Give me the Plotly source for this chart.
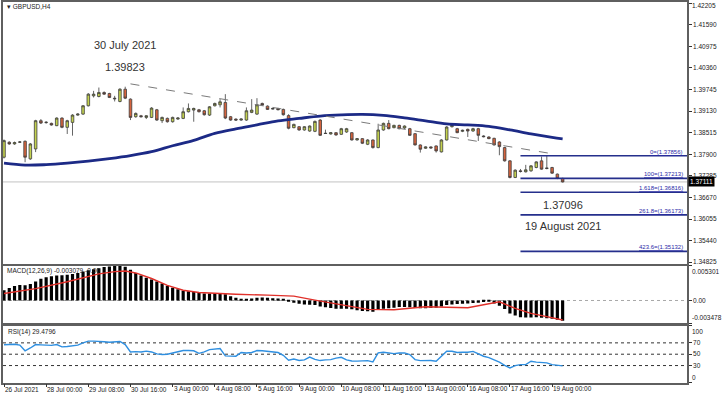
import pandas as pd
import plotly.graph_objects as go
from plotly.subplots import make_subplots

# ---------------- data ----------------
times = [t for t in pd.date_range("2021-07-26 16:00", "2021-08-19 08:00", freq="4h") if t.weekday() < 5]
bar_idx = list(range(len(times)))

opens = [1.37815, 1.38241, 1.38193, 1.38241, 1.38269, 1.37768, 1.38051, 1.38855, 1.38800, 1.38779,
         1.38713, 1.38930, 1.38666, 1.38807, 1.39015, 1.39043, 1.39280, 1.39563, 1.39544, 1.39658,
         1.39629, 1.39497, 1.39403, 1.39752, 1.39469, 1.38968, 1.38996, 1.38949, 1.38949, 1.39166,
         1.38855, 1.38921, 1.38826, 1.38902, 1.38921, 1.39110, 1.39157, 1.39166, 1.39138, 1.39015,
         1.39280, 1.39308, 1.39374, 1.38968, 1.38902, 1.38873, 1.38873, 1.39091, 1.39043, 1.39346,
         1.39270, 1.39185, 1.39204, 1.39176, 1.39000, 1.38656, 1.38684, 1.38590, 1.38561, 1.38552,
         1.38873, 1.38500, 1.38476, 1.38514, 1.38467, 1.38533, 1.38514, 1.38306, 1.38344, 1.38183,
         1.38306, 1.38089, 1.38590, 1.38779, 1.38656, 1.38722, 1.38646, 1.38627, 1.38486, 1.38164,
         1.38070, 1.38108, 1.38136, 1.37966, 1.38306, 1.38684, 1.38627, 1.38552, 1.38609, 1.38561,
         1.38627, 1.38420, 1.38391, 1.38353, 1.38249, 1.38089, 1.37711, 1.37238, 1.37427, 1.37399,
         1.37427, 1.37522, 1.37711, 1.37510, 1.37522, 1.37333, 1.37210]
highs = [1.38320, 1.38270, 1.38260, 1.38275, 1.38290, 1.38220, 1.38880, 1.38902, 1.38840, 1.38800,
         1.38950, 1.38950, 1.38880, 1.39040, 1.39065, 1.39300, 1.39640, 1.39705, 1.39800, 1.39690,
         1.39650, 1.39563, 1.39780, 1.39823, 1.39490, 1.39090, 1.39020, 1.39010, 1.39240, 1.39190,
         1.38970, 1.38945, 1.38970, 1.38955, 1.39233, 1.39346, 1.39225, 1.39190, 1.39160, 1.39270,
         1.39370, 1.39469, 1.39611, 1.38990, 1.38920, 1.38920, 1.39233, 1.39469, 1.39497, 1.39370,
         1.39290, 1.39220, 1.39220, 1.39200, 1.39040, 1.38770, 1.38700, 1.38700, 1.38720, 1.38860,
         1.38900, 1.38600, 1.38530, 1.38530, 1.38650, 1.38650, 1.38530, 1.38360, 1.38360, 1.38330,
         1.38320, 1.38769, 1.38800, 1.38873, 1.38740, 1.38740, 1.38720, 1.38650, 1.38500, 1.38180,
         1.38125, 1.38125, 1.38150, 1.38330, 1.38700, 1.38750, 1.38650, 1.38600, 1.38630, 1.38650,
         1.38650, 1.38440, 1.38410, 1.38370, 1.38270, 1.38110, 1.37730, 1.37470, 1.37480, 1.37597,
         1.37590, 1.37700, 1.37834, 1.37856, 1.37540, 1.37350, 1.37230]
lows = [1.37780, 1.38170, 1.38170, 1.38220, 1.37673, 1.37740, 1.37960, 1.38760, 1.38770, 1.38715,
        1.38700, 1.38640, 1.38477, 1.38429, 1.38995, 1.39020, 1.39260, 1.39516, 1.39520, 1.39590,
        1.39500, 1.39403, 1.39380, 1.39470, 1.38873, 1.38940, 1.38950, 1.38902, 1.38930, 1.38850,
        1.38788, 1.38800, 1.38800, 1.38880, 1.38900, 1.39090, 1.38826, 1.39090, 1.39000, 1.38990,
        1.39260, 1.39233, 1.38900, 1.38850, 1.38850, 1.38850, 1.38850, 1.39070, 1.39020, 1.39280,
        1.39160, 1.39170, 1.39150, 1.39000, 1.38610, 1.38640, 1.38570, 1.38570, 1.38540, 1.38530,
        1.38420, 1.38480, 1.38460, 1.38430, 1.38450, 1.38510, 1.38290, 1.38290, 1.38190, 1.38160,
        1.38061, 1.38070, 1.38570, 1.38610, 1.38640, 1.38610, 1.38620, 1.38420, 1.38150, 1.37947,
        1.38050, 1.38060, 1.37947, 1.37950, 1.38290, 1.38660, 1.38500, 1.38530, 1.38391, 1.38540,
        1.38278, 1.38380, 1.38330, 1.38150, 1.37871, 1.37690, 1.37213, 1.37220, 1.37380, 1.37380,
        1.37400, 1.37500, 1.37460, 1.37470, 1.37340, 1.37190, 1.37096]
closes = [1.38288, 1.38193, 1.38231, 1.38250, 1.37815, 1.38193, 1.38855, 1.38788, 1.38810, 1.38732,
          1.38930, 1.38666, 1.38855, 1.39015, 1.39043, 1.39280, 1.39611, 1.39611, 1.39658, 1.39611,
          1.39516, 1.39480, 1.39752, 1.39497, 1.38949, 1.39062, 1.38968, 1.38996, 1.39214, 1.38873,
          1.38949, 1.38826, 1.38949, 1.38930, 1.39110, 1.39204, 1.39204, 1.39110, 1.39025, 1.39251,
          1.39346, 1.39393, 1.38930, 1.38873, 1.38873, 1.38902, 1.39138, 1.39157, 1.39308, 1.39299,
          1.39176, 1.39204, 1.39166, 1.39025, 1.38640, 1.38750, 1.38590, 1.38684, 1.38703, 1.38835,
          1.38438, 1.38490, 1.38514, 1.38448, 1.38627, 1.38627, 1.38306, 1.38344, 1.38212, 1.38306,
          1.38089, 1.38590, 1.38779, 1.38627, 1.38722, 1.38627, 1.38703, 1.38438, 1.38164, 1.38042,
          1.38108, 1.38080, 1.37994, 1.38306, 1.38675, 1.38722, 1.38514, 1.38580, 1.38561, 1.38627,
          1.38438, 1.38400, 1.38344, 1.38164, 1.38117, 1.37711, 1.37238, 1.37446, 1.37410, 1.37456,
          1.37569, 1.37682, 1.37475, 1.37495, 1.37361, 1.37213, 1.37111]

ma_idx = [0, 4, 8, 12, 16, 20, 24, 28, 32, 36, 40, 44, 48, 52, 56, 60, 64, 68, 72, 76,
          80, 84, 88, 92, 96, 100, 104, 106]
ma_val = [1.37645, 1.37589, 1.37603, 1.37645, 1.37702, 1.37773, 1.37858, 1.37971, 1.38141, 1.38297,
          1.38495, 1.38623, 1.38736, 1.38850, 1.38921, 1.38986, 1.39020, 1.39034, 1.39006, 1.38935,
          1.38850, 1.38765, 1.38736, 1.38694, 1.38595, 1.38481, 1.38382, 1.38340]

trend_idx = [24, 104]
trend_val = [1.39904, 1.37915]

fib_start = 98
fib_levels = [1.37856, 1.37213, 1.36816, 1.36173, 1.35132]
fib_names = ["0", "100", "1.618", "261.8", "423.6"]

last_price = 1.37111

macd_hist = [0.00157, 0.00192, 0.00220, 0.00235, 0.00232, 0.00250, 0.00290, 0.00330, 0.00355, 0.00370,
             0.00380, 0.00384, 0.00392, 0.00405, 0.00420, 0.00440, 0.00460, 0.00475, 0.00490, 0.00510,
             0.00520, 0.00530, 0.00525, 0.00515, 0.00470, 0.00420, 0.00380, 0.00345, 0.00320, 0.00290,
             0.00260, 0.00225, 0.00195, 0.00170, 0.00150, 0.00140, 0.00130, 0.00115, 0.00105, 0.00105,
             0.00110, 0.00110, 0.00095, 0.00065, 0.00040, 0.00025, 0.00020, 0.00030, 0.00040, 0.00045,
             0.00040, 0.00035, 0.00030, 0.00015, -0.00020, -0.00035, -0.00050, -0.00060, -0.00065, -0.00070,
             -0.00090, -0.00105, -0.00115, -0.00125, -0.00125, -0.00125, -0.00135, -0.00150, -0.00160, -0.00165,
             -0.00170, -0.00140, -0.00125, -0.00120, -0.00110, -0.00100, -0.00100, -0.00105, -0.00115, -0.00120,
             -0.00120, -0.00115, -0.00110, -0.00090, -0.00070, -0.00060, -0.00055, -0.00050, -0.00045, -0.00040,
             -0.00035, -0.00025, -0.00020, -0.00045, -0.00080, -0.00130, -0.00200, -0.00230, -0.00255, -0.00260,
             -0.00260, -0.00255, -0.00265, -0.00270, -0.00280, -0.00295, -0.00308]

sig_idx = [0, 6, 12, 18, 21, 23, 25, 28, 31, 34, 37, 40, 44, 50, 55, 59, 63, 66, 69, 74,
           80, 88, 92, 94, 97, 100, 103, 106]
sig_val = [0.00106, 0.00180, 0.00285, 0.00405, 0.00440, 0.00449, 0.00420, 0.00335, 0.00230, 0.00157,
           0.00121, 0.00106, 0.00095, 0.00081, 0.00066, 0.00005, -0.00050, -0.00096, -0.00136, -0.00141,
           -0.00096, -0.00111, -0.00045, -0.00020, -0.00121, -0.00197, -0.00247, -0.00298]

rsi = [66.8, 67.0, 67.5, 66.0, 56.0, 61.0, 67.0, 66.5, 66.0, 65.5,
       67.0, 63.0, 63.5, 65.0, 66.0, 70.0, 73.0, 73.0, 73.0, 72.0,
       71.0, 71.5, 72.5, 67.0, 54.0, 54.5, 54.0, 55.5, 54.0, 50.5,
       49.5, 50.0, 52.0, 55.0, 56.5, 56.5, 56.0, 51.5, 54.0, 58.0,
       58.5, 60.0, 47.0, 46.5, 46.5, 53.0, 52.0, 53.0, 56.5, 56.0,
       55.0, 55.0, 53.0, 48.0, 39.5, 41.5, 39.0, 40.0, 45.0, 41.0,
       38.8, 40.0, 40.5, 43.0, 44.6, 40.0, 38.0, 37.8, 38.5, 38.7,
       36.4, 52.3, 53.5, 52.0, 51.0, 52.0, 52.3, 49.4, 40.5, 38.7,
       39.0, 39.0, 37.6, 47.0, 55.3, 55.3, 53.0, 53.5, 53.5, 55.0,
       51.0, 46.4, 44.0, 40.5, 36.0, 30.5, 25.9, 30.0, 31.7, 31.7,
       37.6, 36.0, 34.7, 34.7, 31.7, 30.0, 29.48]
rsi_levels = [70, 50, 30]

price_ticks = [1.42205, 1.41590, 1.40975, 1.40360, 1.39745, 1.39130, 1.38515,
               1.37900, 1.37285, 1.36670, 1.36055, 1.35440, 1.34825]
macd_max, macd_min = 0.005301, -0.003478

time_tick_idx = [0, 8, 16, 24, 32, 40, 48, 56, 64, 72, 80, 88, 96, 104]
time_tick_text = ["26 Jul 2021", "28 Jul 00:00", "29 Jul 08:00", "30 Jul 16:00", "3 Aug 00:00",
                  "4 Aug 08:00", "5 Aug 16:00", "9 Aug 00:00", "10 Aug 08:00", "11 Aug 16:00",
                  "13 Aug 00:00", "16 Aug 08:00", "17 Aug 16:00", "19 Aug 00:00"]

# ---------------- figure ----------------
W, H = 723, 397
FONT = "Liberation Sans"
x_range = [-0.19, 129.6]
BORDER = "#5f5f5f"

fig = make_subplots(rows=3, cols=1, shared_xaxes=True, vertical_spacing=0.01)

fig.add_trace(go.Candlestick(
    x=bar_idx, open=opens, high=highs, low=lows, close=closes,
    increasing=dict(fillcolor="#c4d24e", line=dict(color="#3d3d3d", width=0.8)),
    decreasing=dict(fillcolor="#d5633d", line=dict(color="#3d3d3d", width=0.8)),
    whiskerwidth=0, showlegend=False, hoverinfo="skip"), row=1, col=1)

fig.add_trace(go.Scatter(x=ma_idx, y=ma_val, mode="lines",
                         line=dict(color="#1c2a86", width=2.8, shape="spline"),
                         showlegend=False, hoverinfo="skip"), row=1, col=1)

fig.add_trace(go.Scatter(x=trend_idx, y=trend_val, mode="lines",
                         line=dict(color="#7a7a7a", width=1, dash="dash"),
                         showlegend=False, hoverinfo="skip"), row=1, col=1)

for lv in fib_levels:
    fig.add_trace(go.Scatter(x=[fib_start, x_range[1]], y=[lv, lv], mode="lines",
                             line=dict(color="#252f8c", width=1.6),
                             showlegend=False, hoverinfo="skip", cliponaxis=True), row=1, col=1)

fig.add_trace(go.Bar(x=bar_idx, y=macd_hist, marker=dict(color="black", line=dict(width=0)),
                     width=0.6, showlegend=False, hoverinfo="skip"), row=2, col=1)
fig.add_trace(go.Scatter(x=sig_idx, y=sig_val, mode="lines",
                         line=dict(color="#e0302a", width=1.4),
                         showlegend=False, hoverinfo="skip"), row=2, col=1)

fig.add_trace(go.Scatter(x=bar_idx, y=rsi, mode="lines",
                         line=dict(color="#2f8fe0", width=1.4),
                         showlegend=False, hoverinfo="skip"), row=3, col=1)

# reference lines
fig.add_shape(type="line", xref="x domain", yref="y", x0=0, x1=1, y0=last_price, y1=last_price,
              line=dict(color="#c2c2c2", width=1), layer="below")
fig.add_shape(type="line", xref="x2 domain", yref="y2", x0=0, x1=1, y0=0, y1=0,
              line=dict(color="#a8a8a8", width=1, dash="dot"), layer="below")
for lv in rsi_levels:
    fig.add_shape(type="line", xref="x3 domain", yref="y3", x0=0, x1=1, y0=lv, y1=lv,
                  line=dict(color="#333333", width=1, dash="dot"), layer="below")

# domains / axes
xdom = [3 / W, 687 / W]
ydoms = [[1 - 265 / H, 1 - 2 / H], [1 - 325 / H, 1 - 267 / H], [1 - 384.5 / H, 1 - 327.5 / H]]
for r in range(3):
    fig.update_xaxes(row=r + 1, col=1, domain=xdom, range=x_range, showgrid=False, zeroline=False,
                     showline=True, mirror=True, linecolor=BORDER, linewidth=1.5,
                     showticklabels=False, ticks="", rangeslider=dict(visible=False))
    fig.update_yaxes(row=r + 1, col=1, domain=ydoms[r], side="right", showgrid=False, zeroline=False,
                     showline=True, mirror=True, linecolor=BORDER, linewidth=1.5,
                     ticks="outside", ticklen=3, tickcolor="#333",
                     tickfont=dict(family=FONT, size=6.5, color="#222"))

fig.update_xaxes(row=3, col=1, ticks="outside", ticklen=3, tickcolor="#333", tickvals=time_tick_idx)
fig.update_yaxes(row=1, col=1, range=[1.34783, 1.42236], tickvals=price_ticks,
                 ticktext=[""] + [f"{v:.5f}" for v in price_ticks[1:]])
fig.update_yaxes(row=2, col=1, range=[macd_min - 0.00001, macd_max + 0.00001],
                 tickvals=[macd_max, 0, macd_min], ticktext=["", "0.00", ""])
fig.update_yaxes(row=3, col=1, range=[0, 100], tickvals=[100, 70, 50, 30, 0],
                 ticktext=["", "70", "50", "30", ""])

ann = []
axis_x = 690 / W
small = dict(family=FONT, size=6.5, color="#222")
ann.append(dict(x=axis_x, xref="paper", y=1.0, yref="paper", text=f"{price_ticks[0]:.5f}",
                xanchor="left", yanchor="top", showarrow=False, font=small))
ann.append(dict(x=axis_x, xref="paper", y=macd_max, yref="y2", text=f"{macd_max:.6f}",
                xanchor="left", yanchor="top", showarrow=False, font=small))
ann.append(dict(x=axis_x, xref="paper", y=macd_min, yref="y2", text=f"{macd_min:.6f}",
                xanchor="left", yanchor="bottom", showarrow=False, font=small))
ann.append(dict(x=axis_x, xref="paper", y=100, yref="y3", text="100",
                xanchor="left", yanchor="top", showarrow=False, font=small))
ann.append(dict(x=axis_x, xref="paper", y=0, yref="y3", text="0",
                xanchor="left", yanchor="bottom", showarrow=False, font=small))
ann.append(dict(x=688 / W, xref="paper", y=last_price, yref="y", text=f"{last_price:.5f}",
                xanchor="left", yanchor="middle", showarrow=False, bgcolor="black", borderpad=1,
                font=dict(family=FONT, size=6.5, color="white")))

for name, lv in zip(fib_names, fib_levels):
    ann.append(dict(x=685 / W, xref="paper", y=lv, yref="y", text=f"<u>{name}=({lv:.5f})</u>",
                    xanchor="right", yanchor="bottom", yshift=-1, showarrow=False,
                    font=dict(family=FONT, size=6, color="#2a2aa8")))

for i, t in zip(time_tick_idx, time_tick_text):
    ann.append(dict(x=i, xref="x3", xshift=-1, y=1 - 391 / H, yref="paper", text=t,
                    xanchor="left", yanchor="middle", showarrow=False, font=small))

ann.append(dict(x=5 / W, xref="paper", y=1 - 6.5 / H, yref="paper", text="▾ GBPUSD,H4",
                xanchor="left", yanchor="middle", showarrow=False, font=small))
ann.append(dict(x=5 / W, xref="paper", y=1 - 272.5 / H, yref="paper",
                text="MACD(12,26,9) -0.003079 -0.00",
                xanchor="left", yanchor="middle", showarrow=False, font=small))
ann.append(dict(x=6 / W, xref="paper", y=1 - 333.5 / H, yref="paper", text="RSI(14) 29.4796",
                xanchor="left", yanchor="middle", showarrow=False, font=small))

big = dict(family=FONT, size=11, color="#333")
hi_i, hi_p = 23, 1.39823
lo_i, lo_p = 106, 1.37096
ann.append(dict(x=hi_i, xref="x", y=1.41018, yref="y", text="30 July 2021",
                showarrow=False, font=big))
ann.append(dict(x=hi_i, xref="x", y=1.40394, yref="y", text=f"{hi_p:.5f}",
                showarrow=False, font=big))
ann.append(dict(x=lo_i, xref="x", y=1.36455, yref="y", text=f"{lo_p:.5f}",
                showarrow=False, font=big))
ann.append(dict(x=lo_i, xref="x", y=1.35860, yref="y", text="19 August 2021",
                showarrow=False, font=big))

fig.update_layout(width=W, height=H, margin=dict(l=0, r=0, t=0, b=0),
                  paper_bgcolor="white", plot_bgcolor="white", showlegend=False,
                  bargap=0.4, annotations=ann, font=dict(family=FONT))

fig.write_html("out.html", config={"displayModeBar": False},
               post_script="document.body.style.margin='0';")
